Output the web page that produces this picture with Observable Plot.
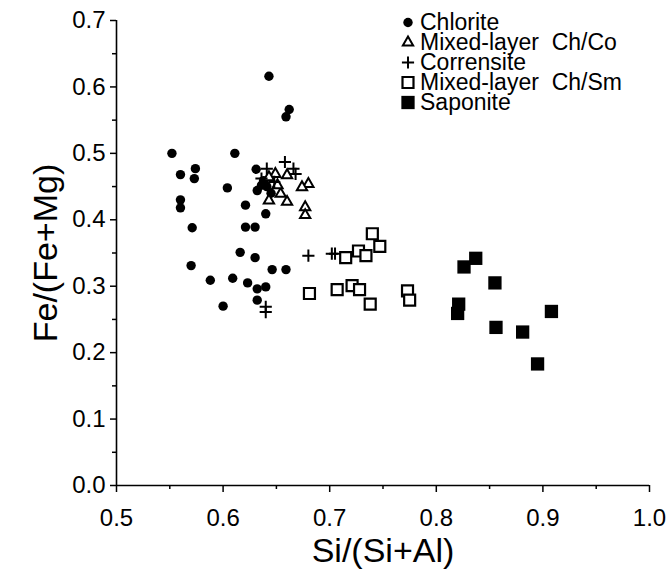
<!DOCTYPE html>
<html><head><meta charset="utf-8">
<script src="https://cdn.jsdelivr.net/npm/d3@7"></script>
<script src="https://cdn.jsdelivr.net/npm/@observablehq/plot@0.6"></script>
<style>
html,body{margin:0;padding:0;background:#fff;}
#wrap{position:relative;width:667px;height:573px;}
#legend{position:absolute;left:0;top:0;font-family:"Liberation Sans",Arial,sans-serif;font-size:23px;color:#000;}
.row{position:absolute;display:flex;align-items:center;height:19px;white-space:pre;line-height:19px;}
.row svg{display:block;overflow:visible;}
.row span{display:inline-block;height:19px;line-height:19px;overflow:visible;}
</style></head><body><div id="wrap"></div>
<script>
// ---- data ----
const chlorite = [
  [0.552,0.500],[0.611,0.500],[0.560,0.468],[0.574,0.477],[0.573,0.462],[0.604,0.448],
  [0.631,0.476],[0.632,0.444],[0.560,0.430],[0.560,0.418],[0.621,0.422],[0.571,0.388],
  [0.621,0.389],[0.630,0.389],[0.616,0.351],[0.630,0.343],[0.570,0.331],[0.588,0.309],
  [0.609,0.312],[0.623,0.305],[0.632,0.296],[0.640,0.299],[0.632,0.279],[0.600,0.270],
  [0.643,0.616],[0.662,0.566],[0.659,0.555],[0.646,0.325],[0.659,0.325],[0.638,0.459],
  [0.641,0.450],[0.640,0.409],[0.636,0.452],[0.645,0.440]
];
const mixedChCo = [
  [0.649,0.469],[0.643,0.464],[0.660,0.467],[0.680,0.454],[0.674,0.449],[0.654,0.439],
  [0.643,0.429],[0.660,0.427],[0.677,0.419],[0.677,0.407],[0.651,0.452]
];
const corrensite = [
  [0.641,0.477],[0.658,0.487],[0.666,0.477],[0.668,0.469],[0.680,0.346],[0.702,0.349],
  [0.705,0.349],[0.640,0.269],[0.640,0.261],[0.636,0.462],[0.648,0.457]
];
const mixedChSm = [
  [0.740,0.379],[0.747,0.360],[0.715,0.343],[0.727,0.353],[0.734,0.346],[0.681,0.289],
  [0.707,0.295],[0.721,0.301],[0.728,0.295],[0.738,0.273],[0.773,0.293],[0.775,0.279]
];
const saponite = [
  [0.837,0.342],[0.826,0.329],[0.855,0.305],[0.821,0.273],[0.820,0.259],[0.856,0.238],
  [0.881,0.231],[0.908,0.262],[0.895,0.183]
];
const categories = ["Chlorite","Mixed-layer  Ch/Co","Corrensite","Mixed-layer  Ch/Sm","Saponite"];
const xTicksMajor = [0.5,0.6,0.7,0.8,0.9,1.0];
const xTicksMinor = [0.55,0.65,0.75,0.85,0.95];
const yTicksMajor = [0,0.1,0.2,0.3,0.4,0.5,0.6,0.7];
const yTicksMinor = [0.05,0.15,0.25,0.35,0.45,0.55,0.65];
const xLabel = "Si/(Si+Al)";
const yLabel = "Fe/(Fe+Mg)";

// ---- styles ----
const series = [chlorite, mixedChCo, corrensite, mixedChSm, saponite];
const styles = [
  {symbol:"circle", r:4.7, fill:"black", stroke:"none", strokeWidth:0},
  {symbol:"triangle2", r:4.9, fill:"white", stroke:"black", strokeWidth:2},
  {symbol:"plus", r:4.0, fill:"none", stroke:"black", strokeWidth:2},
  {symbol:"square2", r:7.0, fill:"white", stroke:"black", strokeWidth:2.2},
  {symbol:"square", r:7.5, fill:"black", stroke:"none", strokeWidth:0}
];
const font = "'Liberation Sans', Arial, Helvetica, sans-serif";

const chart = Plot.plot({
  width: 667, height: 573,
  marginLeft: 116, marginRight: 18, marginTop: 20, marginBottom: 88,
  x: {domain: [0.5, 1.0]},
  y: {domain: [0, 0.7]},
  style: {fontFamily: font, fontSize: "24px", color: "black", background: "white", overflow: "visible"},
  marks: [
    Plot.axisX(xTicksMinor, {tickSize: 4, strokeWidth: 1.5, tickFormat: () => "", label: null}),
    Plot.axisX(xTicksMajor, {tickSize: 7, strokeWidth: 1.5, tickPadding: 16, tickFormat: d3.format(".1f"), label: null, fontSize: 24}),
    Plot.axisY(yTicksMinor, {tickSize: 4, strokeWidth: 1.5, tickFormat: () => "", label: null}),
    Plot.axisY(yTicksMajor, {tickSize: 6, strokeWidth: 1.5, tickPadding: 5, tickFormat: d3.format(".1f"), label: null, fontSize: 24}),
    Plot.ruleY([0], {strokeWidth: 1.6}),
    Plot.ruleX([0.5], {strokeWidth: 1.6}),
    ...series.map((s, i) => Plot.dot(s, {x: d => d[0], y: d => d[1], ...styles[i]})),
    Plot.text([xLabel], {text: d => d, frameAnchor: "bottom", dy: 76, fontSize: 34}),
    Plot.text([yLabel], {text: d => d, frameAnchor: "left", textAnchor: "middle", dx: -70, rotate: -90, fontSize: 34})
  ]
});
const wrap = document.getElementById("wrap");
wrap.appendChild(chart);

// ---- legend (HTML overlay) ----
const legend = document.createElement("div");
legend.id = "legend";
const symMap = {circle: d3.symbolCircle, triangle2: d3.symbolTriangle2, plus: d3.symbolPlus, square2: d3.symbolSquare2, square: d3.symbolSquare};
categories.forEach((name, i) => {
  const st = styles[i];
  const row = document.createElement("div");
  row.className = "row";
  row.style.left = "396px";
  row.style.top = (22 + i * 20 - 9.5) + "px";
  const path = d3.symbol(symMap[st.symbol], Math.PI * st.r * st.r)();
  row.innerHTML = `<svg width="24" height="19"><path transform="translate(12,9.5)" d="${path}" fill="${st.fill}" stroke="${st.stroke}" stroke-width="${st.strokeWidth}"/></svg><span>${name}</span>`;
  legend.appendChild(row);
});
wrap.appendChild(legend);
</script>
</body></html>
